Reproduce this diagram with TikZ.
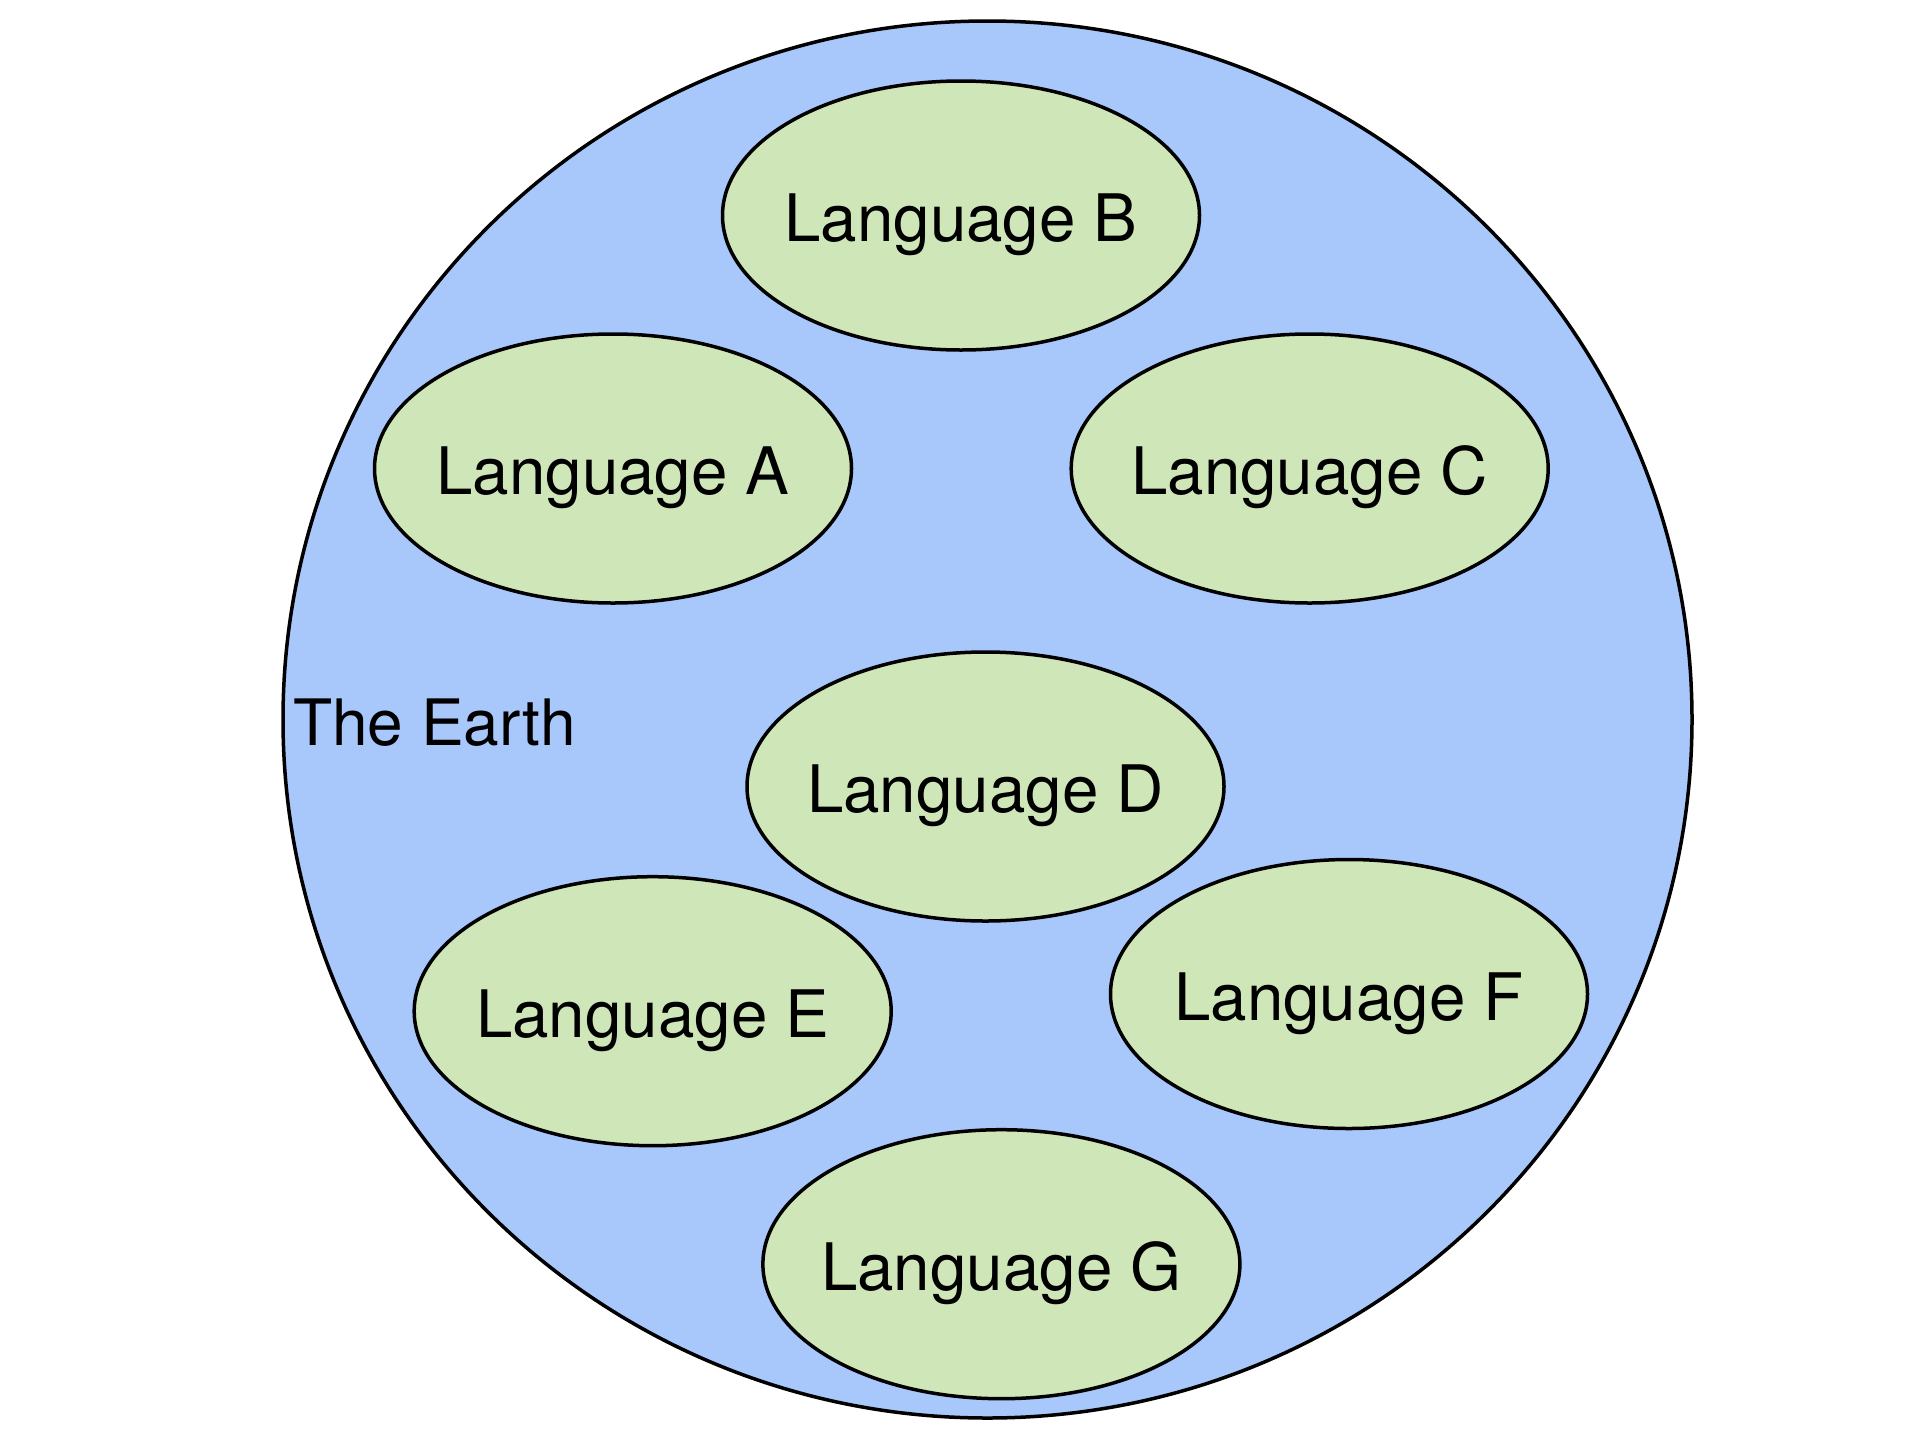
\documentclass[tikz,border=0pt]{standalone}
\usepackage{fontspec}
\setmainfont{TeX Gyre Heros}
\usetikzlibrary{shapes.geometric}
\definecolor{earthblue}{RGB}{168,199,251}
\definecolor{langgreen}{RGB}{207,230,185}
\newcommand{\langtext}[1]{\makebox[0pt]{#1}}
\begin{document}
\begin{tikzpicture}[x=1pt,y=-1pt,
  earth/.style={ellipse,draw=black,line width=3.5pt,fill=earthblue,inner sep=0pt,minimum width=1409pt,minimum height=1397pt},
  lang/.style={ellipse,draw=black,line width=3.5pt,fill=langgreen,inner sep=0pt,minimum width=477pt,minimum height=269pt,font=\fontsize{65.5}{65.5}\selectfont,text height=62pt,text depth=10pt},
  lbl/.style={font=\fontsize{64}{64}\selectfont,inner sep=0pt}]
\useasboundingbox (0,0) rectangle (1919,1440);
\node[earth] (earth) at (987.5,719.5) {};
\node[lbl,anchor=base west] (earthlbl) at (293,745) {The Earth};
\node[lang] (B) at (961,215.5) {\langtext{Language B}};
\node[lang] (A) at (613,468.5) {\langtext{Language A}};
\node[lang] (C) at (1309.7,468.5) {\langtext{Language C}};
\node[lang] (D) at (985.5,786.5) {\langtext{Language D}};
\node[lang] (E) at (652.7,1011.2) {\langtext{Language E}};
\node[lang] (F) at (1349,994) {\langtext{Language F}};
\node[lang] (G) at (1001.4,1264.2) {\langtext{Language G}};
\end{tikzpicture}
\end{document}
